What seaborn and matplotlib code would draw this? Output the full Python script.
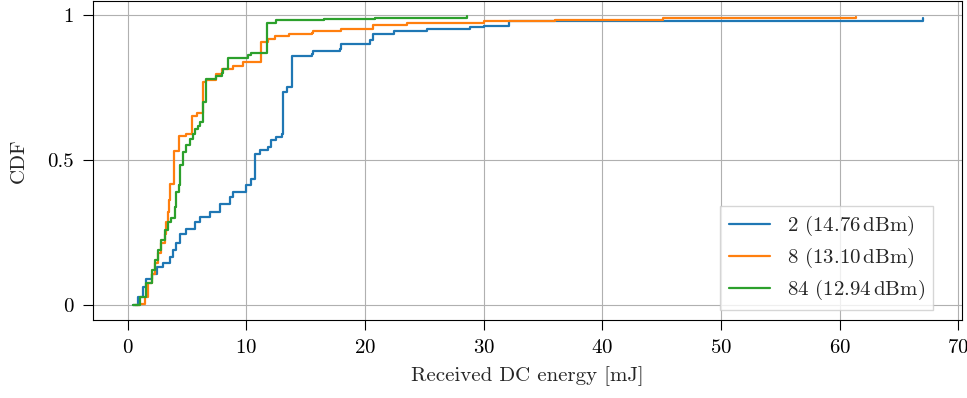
import matplotlib
matplotlib.use("Agg")
import matplotlib.pyplot as plt
import seaborn as sns

# --- step points (energy in mJ, CDF value from that point on) ---
blue_x = [0.40, 0.87, 1.29, 1.57, 2.00, 2.42, 2.98, 3.54, 3.82, 4.10, 4.38, 4.94,
          5.64, 6.07, 6.90, 7.75, 8.60, 8.87, 10.00, 10.40, 10.70, 11.10, 11.80,
          12.10, 12.50, 13.00, 13.10, 13.40, 13.80, 15.50, 15.60, 17.90, 18.00,
          20.40, 20.70, 22.40, 25.20, 28.80, 30.00, 32.10, 67.00]
blue_y = [0.000, 0.030, 0.065, 0.093, 0.110, 0.133, 0.145, 0.168, 0.190, 0.214, 0.248, 0.265,
          0.288, 0.305, 0.322, 0.351, 0.374, 0.391, 0.414, 0.437, 0.523, 0.535, 0.546,
          0.569, 0.580, 0.590, 0.735, 0.752, 0.861, 0.867, 0.878, 0.886, 0.900,
          0.916, 0.937, 0.947, 0.955, 0.962, 0.965, 0.982, 0.993]

orange_x = [0.59, 1.00, 1.43, 1.71, 2.00, 2.28, 2.56, 2.84, 3.12, 3.26, 3.40, 3.48,
            3.54, 3.88, 4.33, 4.90, 5.40, 5.80, 6.35, 6.60, 7.46, 7.90, 8.87, 9.70,
            11.20, 11.80, 12.40, 13.60, 15.50, 15.60, 18.00, 20.70, 23.50, 30.00,
            36.00, 45.10, 61.40]
orange_y = [0.000, 0.005, 0.030, 0.076, 0.110, 0.145, 0.180, 0.214, 0.248, 0.288, 0.322, 0.363,
            0.420, 0.534, 0.586, 0.592, 0.655, 0.664, 0.769, 0.778, 0.798, 0.815, 0.826, 0.838,
            0.907, 0.918, 0.929, 0.935, 0.941, 0.947, 0.955, 0.966, 0.975, 0.981,
            0.985, 0.993, 0.996]

green_x = [0.45, 1.00, 1.57, 2.00, 2.28, 2.56, 2.84, 3.12, 3.40, 3.68, 3.96, 4.10,
           4.33, 4.44, 4.66, 4.94, 5.22, 5.50, 5.64, 5.92, 6.07, 6.35, 6.57, 7.47,
           7.90, 8.03, 8.45, 10.10, 10.40, 11.70, 12.50, 16.50, 20.80, 28.60]
green_y = [0.000, 0.030, 0.076, 0.122, 0.156, 0.190, 0.225, 0.260, 0.288, 0.300, 0.340, 0.390,
           0.414, 0.483, 0.529, 0.552, 0.575, 0.592, 0.609, 0.620, 0.632, 0.700, 0.781, 0.792,
           0.803, 0.815, 0.855, 0.863, 0.872, 0.975, 0.983, 0.989, 0.993, 0.997]

labels = [r"2 (14.76$\,$dBm)", r"8 (13.10$\,$dBm)", r"84 (12.94$\,$dBm)"]
colors = ["#1f77b4", "#ff7f0e", "#2ca02c"]

x_ticks = [0, 10, 20, 30, 40, 50, 60, 70]
y_ticks = [0, 0.5, 1]
y_ticklabels = ["0", "0.5", "1"]

sns.set_style("ticks")
plt.rcParams["font.family"] = ["cmr10", "DejaVu Serif"]
plt.rcParams["mathtext.fontset"] = "cm"
plt.rcParams["axes.formatter.use_mathtext"] = True
plt.rcParams["font.size"] = 15

fig = plt.figure(figsize=(9.67, 3.98), dpi=100)
ax = fig.add_axes([0.0962, 0.196, 0.8986, 0.8015])

series = [(blue_x, blue_y), (orange_x, orange_y), (green_x, green_y)]
for (xs, ys), lab, col in zip(series, labels, colors):
    sns.lineplot(x=xs, y=ys, ax=ax, color=col, label=lab, linewidth=1.6,
                 drawstyle="steps-post", estimator=None, sort=False)

ax.set_xticks(x_ticks)
ax.set_yticks(y_ticks)
ax.set_yticklabels(y_ticklabels)
ax.set_xlim(-2.93, 70.3)
ax.set_ylim(-0.05, 1.05)
ax.grid(True, color="#b0b0b0", linewidth=0.8)
ax.set_axisbelow(True)
for s in ax.spines.values():
    s.set_color("black")
    s.set_linewidth(0.8)
ax.tick_params(direction="out", length=7, width=0.8, pad=7, colors="black", labelsize=15)
ax.set_xlabel("Received DC energy [mJ]", fontsize=15, labelpad=6)
ax.set_ylabel("CDF", fontsize=15, labelpad=14)

ax.legend(loc="lower right", bbox_to_anchor=(0.967, 0.03), borderaxespad=0,
          fancybox=False, edgecolor="#cccccc", framealpha=0.8, fontsize=15,
          handlelength=2.0, labelspacing=0.38)

fig.savefig("out.png", dpi=100)
